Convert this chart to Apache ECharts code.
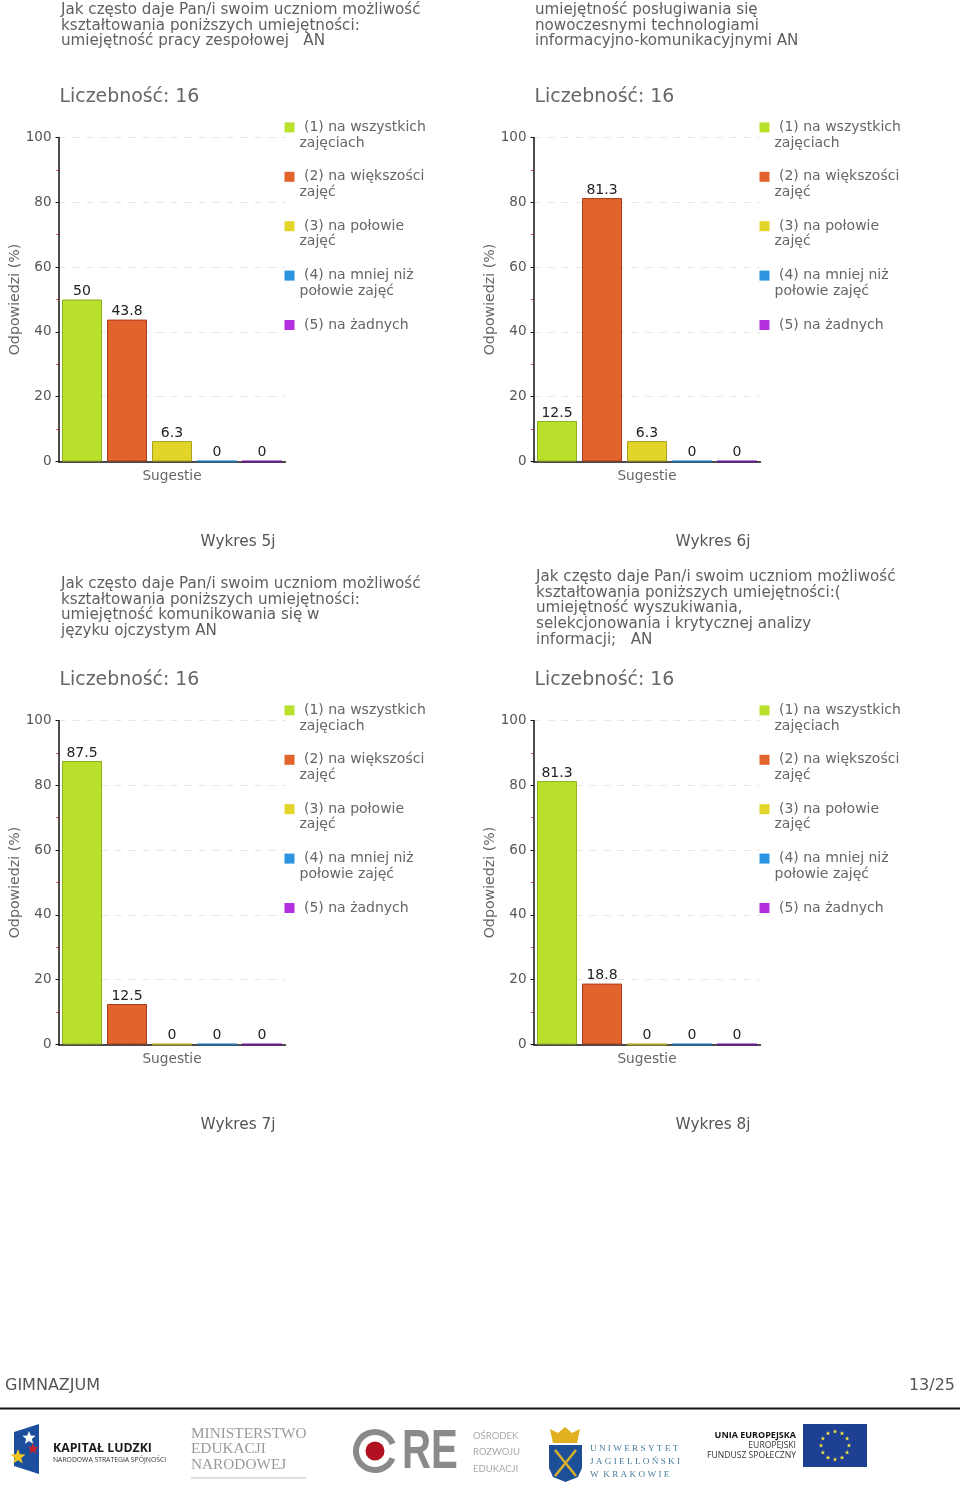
<!DOCTYPE html>
<html><head><meta charset="utf-8"><style>html,body{margin:0;padding:0;background:#fff}#c{width:960px;height:1496px}</style>
<script src="https://cdn.jsdelivr.net/npm/echarts@6/dist/echarts.min.js"></script></head><body><div id="c"></div>
<script>
const categories = ['Sugestie'];
const legendNames = ['(1) na wszystkich|zajęciach','(2) na większości|zajęć','(3) na połowie|zajęć','(4) na mniej niż|połowie zajęć','(5) na żadnych'];
const chart5j = [50, 43.8, 6.3, 0, 0];
const chart6j = [12.5, 81.3, 6.3, 0, 0];
const chart7j = [87.5, 12.5, 0, 0, 0];
const chart8j = [81.3, 18.8, 0, 0, 0];
const allCharts = [chart5j, chart6j, chart7j, chart8j];
const chartLabels = ['Wykres 5j','Wykres 6j','Wykres 7j','Wykres 8j'];
const countLabel = 'Liczebność: 16';
const yAxisName = 'Odpowiedzi (%)';
const questions = [
 'Jak często daje Pan/i swoim uczniom możliwość\nkształtowania poniższych umiejętności:\numiejętność pracy zespołowej   AN',
 'umiejętność posługiwania się\nnowoczesnymi technologiami\ninformacyjno-komunikacyjnymi AN',
 'Jak często daje Pan/i swoim uczniom możliwość\nkształtowania poniższych umiejętności:\numiejętność komunikowania się w\njęzyku ojczystym AN',
 'Jak często daje Pan/i swoim uczniom możliwość\nkształtowania poniższych umiejętności:(\numiejętność wyszukiwania,\nselekcjonowania i krytycznej analizy\ninformacji;   AN'
];
const fills = ['#b9e02b','#e0642c','#e2d428','#2b93e0','#b32fe0'];
const borders = ['#8fae20','#a83c1c','#a8a020','#1f6fa8','#6a1a90'];

const F = 'DejaVu Sans';
const gridX = [58.5, 533.5], gridY = [137.5, 720.5];
const qTop = [[2.5,2.5],[576.5,569.5]];
const qLeft = [[61,535],[61,536]];
const pos = [[0,0],[1,0],[0,1],[1,1]];
const titles = [], grids = [], xAxes = [], yAxes = [], legends = [], series = [];
const legendText = legendNames.map(n => { const p = n.split('|'); return p[1] ? '\n ' + p[0] + '\n' + p[1] : '\n ' + p[0] + '\n '; });

pos.forEach(([cx, cy], i) => {
  const gx = gridX[cx], gy = gridY[cy];
  titles.push({left: qLeft[cy][cx], top: qTop[cy][cx], padding: 0, text: questions[i],
    textStyle: {fontFamily: F, fontSize: 15.15, fontWeight: 'normal', color: '#5f5f5f', lineHeight: 15.6}});
  titles.push({left: gx + 1, top: gy - 50, padding: 0, text: countLabel,
    textStyle: {fontFamily: F, fontSize: 18.9, fontWeight: 'normal', color: '#666', lineHeight: 20}});
  titles.push({left: gx + 179.5, textAlign: 'center', top: gy + 396, padding: 0, text: chartLabels[i],
    textStyle: {fontFamily: F, fontSize: 15.3, fontWeight: 'normal', color: '#555', lineHeight: 18}});
  grids.push({left: gx, top: gy, width: 227, height: 324});
  xAxes.push({type: 'category', gridIndex: i, data: categories,
    axisLine: {lineStyle: {color: '#111', width: 1.5}},
    axisTick: {alignWithLabel: true, length: 3, lineStyle: {color: '#111'}},
    axisLabel: {fontFamily: F, fontSize: 13.7, color: '#666', margin: 8}});
  yAxes.push({type: 'value', gridIndex: i, min: 0, max: 100, interval: 20, name: yAxisName,
    nameLocation: 'middle', nameGap: 36, nameTextStyle: {fontFamily: F, fontSize: 14.2, color: '#666'},
    axisLine: {show: true, lineStyle: {color: '#111', width: 1.5}},
    axisTick: {show: true, length: 3, lineStyle: {color: '#111'}},
    minorTick: {show: true, splitNumber: 2, length: 2, lineStyle: {color: '#c02020'}},
    axisLabel: {fontFamily: F, fontSize: 13.5, color: '#555', margin: 7, padding: [5, 0, 0, 0]},
    splitLine: {show: true, lineStyle: {color: '#e6e6e6', type: [7, 7], width: 1}}});
  legends.push({left: gx + 226, top: gy - 33.5, orient: 'vertical', padding: 0, itemGap: 2.6,
    itemWidth: 10, itemHeight: 10, icon: 'rect', selectedMode: false,
    data: legendNames.map((n, k) => ({name: n, itemStyle: {color: fills[k], borderWidth: 0}})),
    formatter: n => legendText[legendNames.indexOf(n)],
    textStyle: {fontFamily: F, fontSize: 14, color: '#666', lineHeight: 15.6}});
  allCharts[i].forEach((v, k) => series.push({
    type: 'bar', name: legendNames[k], xAxisIndex: i, yAxisIndex: i, data: [v], barWidth: 40, barGap: '12.5%',
    itemStyle: {color: fills[k], borderColor: borders[k], borderWidth: v === 0 ? 2 : 1},
    label: {show: true, position: 'top', distance: 1, fontFamily: F, fontSize: 14, color: '#222'}
  }));
});

titles.push({left: 5, top: 1377, padding: 0, text: 'GIMNAZJUM', textStyle: {fontFamily: F, fontSize: 16, fontWeight: 'normal', color: '#555', lineHeight: 17}});
titles.push({right: 5, top: 1377, padding: 0, text: '13/25', textStyle: {fontFamily: F, fontSize: 16, fontWeight: 'normal', color: '#555', lineHeight: 17}});

function star(cx, cy, r, fill) {
  const pts = [];
  for (let i = 0; i < 10; i++) { const a = -Math.PI/2 + i*Math.PI/5, q = i%2 ? r*0.42 : r; pts.push([cx+q*Math.cos(a), cy+q*Math.sin(a)]); }
  return {type:'polygon', shape:{points:pts}, style:{fill}};
}
function txt(x, y, text, font, fill, align) {
  return {type:'text', x, y, style:{text, font, fill, align: align||'left', verticalAlign:'middle'}};
}
const g = [];
g.push({type:'rect', shape:{x:0,y:1407.5,width:960,height:2}, style:{fill:'#111'}});
// Kapitał Ludzki
g.push({type:'polygon', shape:{points:[[14,1432],[39,1424],[39,1474],[14,1466]]}, style:{fill:'#1b4f9e'}});
g.push(star(29,1438,7,'#fff'), star(18,1457,8,'#f2c81e'), star(33,1449,6,'#c8202c'));
g.push(txt(53,1448,'KAPITAŁ LUDZKI','bold 12.3px "Open Sans"','#1a1a1a'));
g.push(txt(53,1460,'NARODOWA STRATEGIA SPÓJNOŚCI','6.8px "Open Sans"','#333'));
// MEN
['MINISTERSTWO','EDUKACJI','NARODOWEJ'].forEach((t,k)=>g.push(txt(191,[1434,1449,1465][k],t,'15.3px "Liberation Serif"','#9a9a9a')));
g.push({type:'line', shape:{x1:191,y1:1478,x2:306,y2:1478}, style:{stroke:'#b9c0cc',lineWidth:1}});
// ORE
g.push({type:'arc', shape:{cx:375,cy:1451,r:19,startAngle:0.4,endAngle:5.9}, style:{stroke:'#8a8a8a',fill:'none',lineWidth:6}});
g.push({type:'circle', shape:{cx:375,cy:1451,r:9.5}, style:{fill:'#b01020'}});
g.push(Object.assign(txt(402,1453,'RE','bold 55px "Liberation Sans"','#8a8a8a'),{scaleX:0.73}));
['OŚRODEK','ROZWOJU','EDUKACJI'].forEach((t,k)=>g.push(txt(473,[1436,1452,1469][k],t,'9.5px "Lato"','#aaa')));
// UJ
g.push({type:'polygon', shape:{points:[[550,1429],[558,1433],[565,1427],[572,1433],[580,1429],[577,1443],[553,1443]]}, style:{fill:'#e0b020'}});
g.push({type:'polygon', shape:{points:[[549,1445],[582,1445],[582,1468],[578,1477],[565.5,1482],[553,1477],[549,1468]]}, style:{fill:'#1d4f96'}});
g.push({type:'line', shape:{x1:555,y1:1450,x2:576,y2:1476}, style:{stroke:'#d8b030',lineWidth:2.5}});
g.push({type:'line', shape:{x1:576,y1:1450,x2:555,y2:1476}, style:{stroke:'#d8b030',lineWidth:2.5}});
['U N I W E R S Y T E T','J A G I E L L O Ń S K I','W  K R A K O W I E'].forEach((t,k)=>g.push(txt(590,[1449,1462,1475][k],t,'9.2px "Liberation Serif"','#4a7d9c')));
// EU
g.push(txt(796,1435,'UNIA EUROPEJSKA','bold 9px "Open Sans"','#111','right'));
g.push(txt(796,1446,'EUROPEJSKI','8.6px "Open Sans"','#333','right'));
g.push(txt(796,1456,'FUNDUSZ SPOŁECZNY','8.6px "Open Sans"','#333','right'));
g.push({type:'rect', shape:{x:803,y:1424,width:64,height:43}, style:{fill:'#1d3f94'}});
for (let i=0;i<12;i++){const a=i*Math.PI/6; g.push(star(835+14*Math.cos(a),1445.5+14*Math.sin(a),2.4,'#f0e040'));}

const chart = echarts.init(document.getElementById('c'), null, {renderer:'canvas'});
chart.setOption({animation:false, backgroundColor:'#fff', title:titles, grid:grids, xAxis:xAxes, yAxis:yAxes, legend:legends, series, graphic:{elements:g}});
</script></body></html>
